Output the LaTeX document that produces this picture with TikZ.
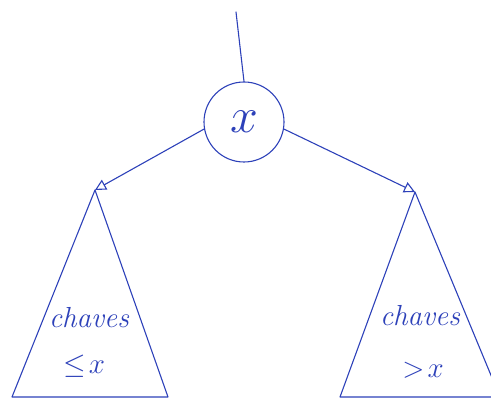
\documentclass[tikz,border=0pt]{standalone}
\usetikzlibrary{arrows.meta}
\usepackage{fix-cm}
\definecolor{ink}{RGB}{45,65,185}
\begin{document}
\begin{tikzpicture}[x=1pt,y=-1pt,
  pen/.style={draw=ink,line width=1.1pt,line join=round,line cap=round},
  keynode/.style={pen,circle,minimum size=80pt,inner sep=0pt,text=ink,font=\fontsize{50}{54}\selectfont},
  lbl/.style={text=ink,font=\fontsize{29}{34}\selectfont\itshape,inner sep=0pt},
  tip/.style={-{Triangle[open,length=11pt,width=11pt]}}]
\useasboundingbox (0,0) rectangle (491,398);
\node[keynode] (c) at (244,122) {$x$};
\coordinate (top) at (236,12);
\coordinate (la) at (95,190);
\coordinate (lbl1) at (12,397);
\coordinate (lbr1) at (168,397);
\coordinate (ra) at (415,192);
\coordinate (rbl1) at (340,397);
\coordinate (rbr1) at (500,397);
\draw[pen] (top) -- (c.north);
\draw[pen,tip] (c.190) -- (la);
\draw[pen,tip] (c.-10) -- (ra);
\draw[pen] (la) -- (lbl1) -- (lbr1) -- cycle;
\draw[pen] (ra) -- (rbl1) -- (rbr1) -- cycle;
\node[lbl] (lk) at (89,318) {chaves};
\node[lbl] (lr) at (84,366) {$\leq\!x$};
\node[lbl] (rk) at (420,316) {chaves};
\node[lbl] (rr) at (423,370) {$>\!x$};
\end{tikzpicture}
\end{document}
